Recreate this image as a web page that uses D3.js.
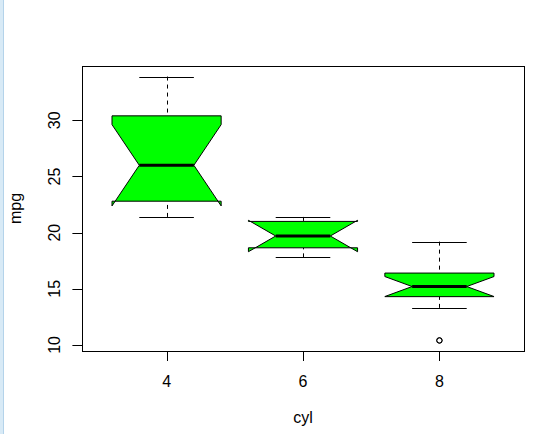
<!DOCTYPE html>
<html>
<head>
<meta charset="utf-8">
<script src="https://cdn.jsdelivr.net/npm/d3@7"></script>
<style>
html,body{margin:0;padding:0;background:#fff;}
svg{display:block;font-family:"Liberation Sans",Arial,sans-serif;}
</style>
</head>
<body>
<svg id="chart" width="558" height="434"></svg>
<script>
// Data (mtcars mpg by cyl, notched boxplot stats)
const categories   = ["4", "6", "8"];
const whiskerLow   = [21.4, 17.8, 13.3];
const q1           = [22.8, 18.65, 14.3];
const medians      = [26.0, 19.7, 15.2];
const q3           = [30.4, 21.0, 16.4];
const whiskerHigh  = [33.9, 21.4, 19.2];
const notchLow     = [22.38, 18.30, 14.31];
const notchHigh    = [29.62, 21.10, 16.09];
const outliers     = [[], [], [10.4, 10.4]];
const yTicks       = [10, 15, 20, 25, 30];

const svg = d3.select("#chart");
const L = 82, R = 524, T = 66, B = 351;

// left window strip
svg.append("rect").attr("x",0).attr("y",0).attr("width",3).attr("height",434).attr("fill","#d8eaf6");
svg.append("line").attr("x1",3.5).attr("x2",3.5).attr("y1",0).attr("y2",434).attr("stroke","#b4d3ea");

const x = d3.scaleLinear().domain([0.38, 3.62]).range([L, R]);
const y = d3.scaleLinear().domain([9.46, 34.84]).range([B, T]);

const boxHalf = x(1.4) - x(1);   // boxwex 0.8
const stapleHalf = boxHalf / 2;

const g = svg.append("g");

categories.forEach((c, i) => {
  const cx = x(i + 1);
  // whiskers (dashed) from staple to box
  [[whiskerLow[i], q1[i]], [whiskerHigh[i], q3[i]]].forEach(([a, b]) => {
    g.append("line")
      .attr("x1", Math.round(cx) + 0.5).attr("x2", Math.round(cx) + 0.5)
      .attr("y1", y(a)).attr("y2", y(b))
      .attr("stroke", "#000").attr("stroke-width", 1)
      .attr("stroke-dasharray", "4,4");
    g.append("line")
      .attr("x1", cx - stapleHalf).attr("x2", cx + stapleHalf)
      .attr("y1", Math.round(y(a)) + 0.5).attr("y2", Math.round(y(a)) + 0.5)
      .attr("stroke", "#000").attr("stroke-width", 1);
  });
  // notched box polygon
  const pts = [
    [cx - boxHalf, y(q1[i])],
    [cx - boxHalf, y(notchLow[i])],
    [cx - boxHalf / 2, y(medians[i])],
    [cx - boxHalf, y(notchHigh[i])],
    [cx - boxHalf, y(q3[i])],
    [cx + boxHalf, y(q3[i])],
    [cx + boxHalf, y(notchHigh[i])],
    [cx + boxHalf / 2, y(medians[i])],
    [cx + boxHalf, y(notchLow[i])],
    [cx + boxHalf, y(q1[i])]
  ];
  g.append("polygon")
    .attr("points", pts.map(p => p.join(",")).join(" "))
    .attr("fill", "#00ff00").attr("stroke", "#000").attr("stroke-width", 1);
  // median
  g.append("line")
    .attr("x1", cx - boxHalf / 2).attr("x2", cx + boxHalf / 2)
    .attr("y1", y(medians[i])).attr("y2", y(medians[i]))
    .attr("stroke", "#000").attr("stroke-width", 3);
  // outliers
  outliers[i].forEach(v => {
    g.append("circle").attr("cx", cx).attr("cy", y(v)).attr("r", 2.7)
      .attr("fill", "none").attr("stroke", "#000").attr("stroke-width", 1);
  });
});

// plot frame
svg.append("rect").attr("x", L + 0.5).attr("y", T + 0.5)
  .attr("width", R - L).attr("height", B - T)
  .attr("fill", "none").attr("stroke", "#000").attr("stroke-width", 1);

// y axis
const yAxis = svg.append("g");
yTicks.forEach(t => {
  const yy = Math.round(y(t)) + 0.5;
  yAxis.append("line").attr("x1", L - 9.6).attr("x2", L).attr("y1", yy).attr("y2", yy)
    .attr("stroke", "#000");
  yAxis.append("text").attr("transform", `translate(60,${y(t)}) rotate(-90)`)
    .attr("text-anchor", "middle").attr("font-size", 16).attr("fill", "#000").text(t);
});
// x axis
const xAxis = svg.append("g");
categories.forEach((c, i) => {
  const xx = Math.round(x(i + 1)) + 0.5;
  xAxis.append("line").attr("x1", xx).attr("x2", xx).attr("y1", B + 0.5).attr("y2", B + 10)
    .attr("stroke", "#000");
  xAxis.append("text").attr("x", x(i + 1)).attr("y", 386.5)
    .attr("text-anchor", "middle").attr("font-size", 16).attr("fill", "#000").text(c);
});

// axis titles
svg.append("text").attr("x", (L + R) / 2).attr("y", 423)
  .attr("text-anchor", "middle").attr("font-size", 16).text("cyl");
svg.append("text").attr("transform", `translate(20.5,${(T + B) / 2}) rotate(-90)`)
  .attr("text-anchor", "middle").attr("font-size", 16).text("mpg");
</script>
</body>
</html>
